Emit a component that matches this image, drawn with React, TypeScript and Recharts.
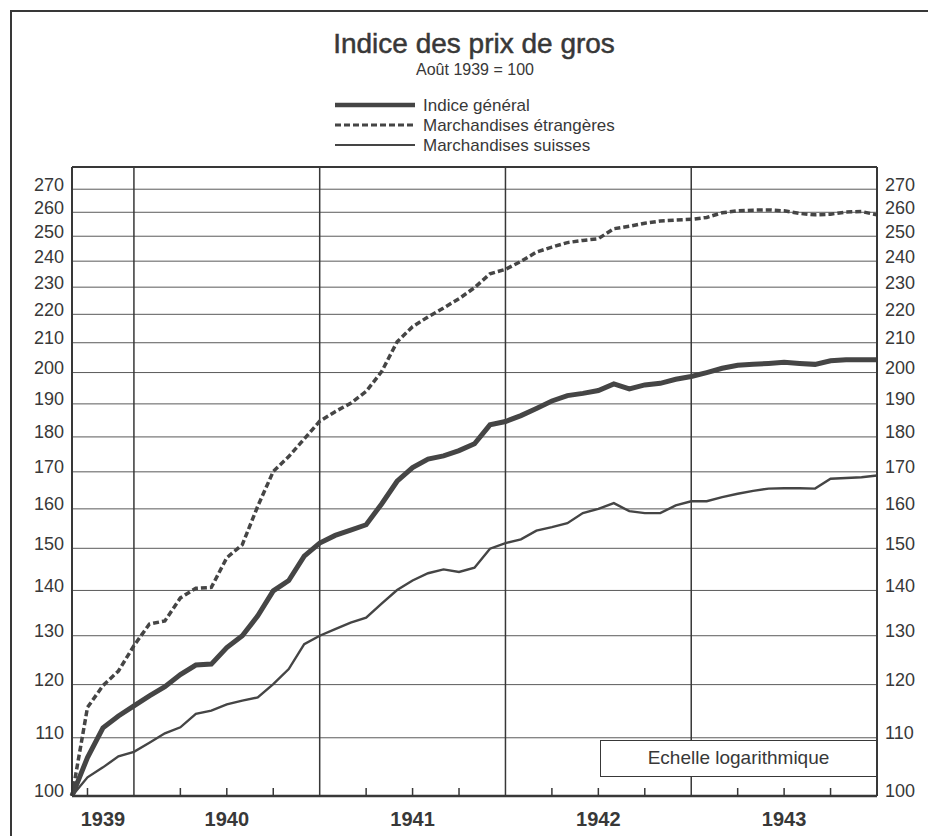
import React from 'react';
import { LineChart, Line, XAxis, YAxis, CartesianGrid, ReferenceLine, Legend } from 'recharts';

// mois depuis fin août 1939 (0 = août 1939 = 100)
const mois = [
  0, 1, 2, 3, 4, 5, 6, 7, 8, 9, 10, 11, 12, 13, 14, 15, 16, 17, 18, 19, 20, 21, 22, 23, 24, 25, 26,
  27, 28, 29, 30, 31, 32, 33, 34, 35, 36, 37, 38, 39, 40, 41, 42, 43, 44, 45, 46, 47, 48, 49, 50, 51, 52,
];

const indiceGeneral = [
  100, 106.5, 111.8, 114.0, 115.9, 117.8, 119.6, 122.0, 123.9, 124.1, 127.5, 130.0, 134.3, 139.9,
  142.3, 148.1, 151.3, 153.2, 154.5, 155.9, 161.3, 167.4, 171.2, 173.6, 174.5, 176.0, 178.0, 183.6,
  184.6, 186.4, 188.6, 190.9, 192.6, 193.3, 194.2, 196.3, 194.7, 196.0, 196.5, 197.8, 198.7, 200.0,
  201.4, 202.4, 202.7, 203.0, 203.4, 203.0, 202.7, 203.9, 204.2, 204.2, 204.2,
];

const marchEtrangeres = [
  100, 115.6, 119.8, 122.7, 127.9, 132.5, 133.2, 138.3, 140.5, 140.7, 147.7, 150.9, 160.7, 170.1,
  174.3, 179.4, 184.7, 187.6, 190.2, 193.9, 200.3, 210.3, 215.6, 219.1, 222.3, 225.7, 229.8, 235.1,
  236.8, 239.9, 243.6, 245.6, 247.4, 248.3, 249.0, 253.1, 254.1, 255.4, 256.3, 256.7, 257.0, 257.8,
  259.8, 260.6, 260.9, 261.0, 260.6, 259.5, 258.9, 259.2, 260.1, 260.3, 258.9,
];

const marchSuisses = [
  100, 103.1, 104.8, 106.7, 107.5, 109.1, 110.8, 111.9, 114.4, 115.0, 116.2, 116.9, 117.5, 120.1,
  123.1, 128.2, 130.0, 131.4, 132.8, 133.9, 137.0, 140.1, 142.3, 144.0, 144.9, 144.3, 145.3, 149.9,
  151.3, 152.2, 154.4, 155.3, 156.3, 158.9, 160.0, 161.5, 159.4, 158.9, 158.9, 160.9, 162.0, 162.0,
  163.1, 164.0, 164.8, 165.4, 165.5, 165.5, 165.4, 168.1, 168.3, 168.5, 169.0,
];

const yTicks = [100, 110, 120, 130, 140, 150, 160, 170, 180, 190, 200, 210, 220, 230, 240, 250, 260, 270];
const annees = ['1939', '1940', '1941', '1942', '1943'];
const anneesMilieu = [2, 10, 22, 34, 46];
const finsAnnee = [4, 16, 28, 40];
const trimestres = [1, 7, 10, 13, 19, 22, 25, 31, 34, 37, 43, 46, 49];

const data = mois.map((m, i) => ({
  m,
  general: indiceGeneral[i],
  etrangeres: marchEtrangeres[i],
  suisses: marchSuisses[i],
}));

// ticks de l'axe x : milieux d'année (étiquettes) + fins de trimestre (petits traits)
const xTicks = Array.from(new Set([...anneesMilieu, ...trimestres])).sort((a, b) => a - b);

const INK = '#383838';
const LINE = '#454545';
const FONT = '"Liberation Sans", Arial, Helvetica, sans-serif';

const ordre = ['general', 'etrangeres', 'suisses'];
const styles: Record<string, { w: number; dash?: string }> = {
  general: { w: 5 },
  etrangeres: { w: 3.5, dash: '6 3' },
  suisses: { w: 2.4 },
};

const YTick = ({ x, y, payload, textAnchor }: any) => (
  <text x={x} y={y - 5} dy="0.36em" textAnchor={textAnchor} fontSize={18} fill={INK} fontFamily={FONT}>
    {payload.value}
  </text>
);

const XTick = ({ x, y, payload }: any) => {
  const v = payload.value;
  const k = anneesMilieu.indexOf(v);
  return (
    <g>
      {trimestres.includes(v) && <line x1={x} x2={x} y1={y} y2={y - 8} stroke={INK} strokeWidth={1.5} />}
      {k >= 0 && (
        <text x={x} y={y + 30} textAnchor="middle" fontSize={20} fontWeight="bold" fill={INK} fontFamily={FONT}>
          {annees[k]}
        </text>
      )}
    </g>
  );
};

const LegendBox = ({ payload }: any) => {
  const items = [...(payload || [])].sort((a: any, b: any) => ordre.indexOf(a.dataKey) - ordre.indexOf(b.dataKey));
  return (
    <svg width={320} height={62} style={{ display: 'block' }}>
      {items.map((entry: any, i: number) => {
        const s = styles[entry.dataKey] || { w: 2 };
        const cy = 11 + i * 20;
        return (
          <g key={entry.dataKey}>
            <line x1={5} x2={85} y1={cy} y2={cy} stroke={LINE} strokeWidth={s.w - 0.5} strokeDasharray={s.dash} />
            <text x={93} y={cy + 6} fontSize={17} fill={INK} fontFamily={FONT}>
              {entry.value}
            </text>
          </g>
        );
      })}
    </svg>
  );
};

export default function App() {
  return (
    <div style={{ position: 'absolute', left: 0, top: 0, width: 928, height: 836, background: '#fff' }}>
      <div
        style={{
          position: 'absolute',
          left: 10,
          top: 10,
          right: 0,
          bottom: 0,
          borderLeft: `2px solid ${INK}`,
          borderTop: `2px solid ${INK}`,
        }}
      />
      <div
        style={{
          position: 'absolute',
          left: 0,
          width: 948,
          top: 30,
          textAlign: 'center',
          fontFamily: FONT,
          fontSize: 28,
          lineHeight: '28px',
          color: INK,
          WebkitTextStroke: `0.5px ${INK}`,
        }}
      >
        Indice des prix de gros
      </div>
      <div
        style={{
          position: 'absolute',
          left: 0,
          width: 950,
          top: 62,
          textAlign: 'center',
          fontFamily: FONT,
          fontSize: 16,
          lineHeight: '16px',
          color: INK,
        }}
      >
        Août 1939 = 100
      </div>
      <LineChart width={928} height={836} data={data} margin={{ top: 167, right: 1, bottom: 0, left: 10 }}>
        <CartesianGrid yAxisId="left" xAxisId="years" vertical={false} stroke="#5a5a5a" strokeWidth={1} />
        <XAxis
          xAxisId="years"
          type="number"
          dataKey="m"
          domain={[0, 52]}
          ticks={xTicks}
          interval={0}
          height={40}
          tickSize={0}
          tickMargin={0}
          axisLine={{ stroke: INK, strokeWidth: 2.5 }}
          tickLine={false}
          tick={<XTick />}
        />
        <YAxis
          yAxisId="left"
          scale="log"
          domain={[100, 280]}
          ticks={yTicks}
          allowDataOverflow
          width={62}
          axisLine={{ stroke: INK, strokeWidth: 2 }}
          tickLine={false}
          tick={<YTick />}
        />
        <YAxis
          yAxisId="right"
          orientation="right"
          scale="log"
          domain={[100, 280]}
          ticks={yTicks}
          allowDataOverflow
          width={50}
          axisLine={{ stroke: INK, strokeWidth: 2 }}
          tickLine={false}
          tick={<YTick />}
        />
        {finsAnnee.map((x) => (
          <ReferenceLine key={x} xAxisId="years" yAxisId="left" x={x} stroke={INK} strokeWidth={1.5} />
        ))}
        <ReferenceLine xAxisId="years" yAxisId="left" y={280} stroke={INK} strokeWidth={2} />
        <Legend
          layout="vertical"
          align="center"
          verticalAlign="middle"
          wrapperStyle={{ top: 94, left: 330, width: 320, height: 62 }}
          content={<LegendBox />}
        />
        <Line
          xAxisId="years"
          yAxisId="left"
          type="linear"
          dataKey="general"
          name="Indice général"
          stroke={LINE}
          strokeWidth={styles.general.w}
          dot={false}
          isAnimationActive={false}
        />
        <Line
          xAxisId="years"
          yAxisId="left"
          type="linear"
          dataKey="etrangeres"
          name="Marchandises étrangères"
          stroke={LINE}
          strokeWidth={styles.etrangeres.w}
          strokeDasharray={styles.etrangeres.dash}
          dot={false}
          isAnimationActive={false}
        />
        <Line
          xAxisId="years"
          yAxisId="left"
          type="linear"
          dataKey="suisses"
          name="Marchandises suisses"
          stroke={LINE}
          strokeWidth={styles.suisses.w}
          dot={false}
          isAnimationActive={false}
        />
      </LineChart>
      <div
        style={{
          position: 'absolute',
          left: 600,
          top: 740,
          width: 277,
          height: 37,
          boxSizing: 'border-box',
          border: `1.5px solid ${INK}`,
          background: '#fff',
          fontFamily: FONT,
          fontSize: 19,
          lineHeight: '34px',
          textAlign: 'center',
          color: INK,
        }}
      >
        Echelle logarithmique
      </div>
    </div>
  );
}
